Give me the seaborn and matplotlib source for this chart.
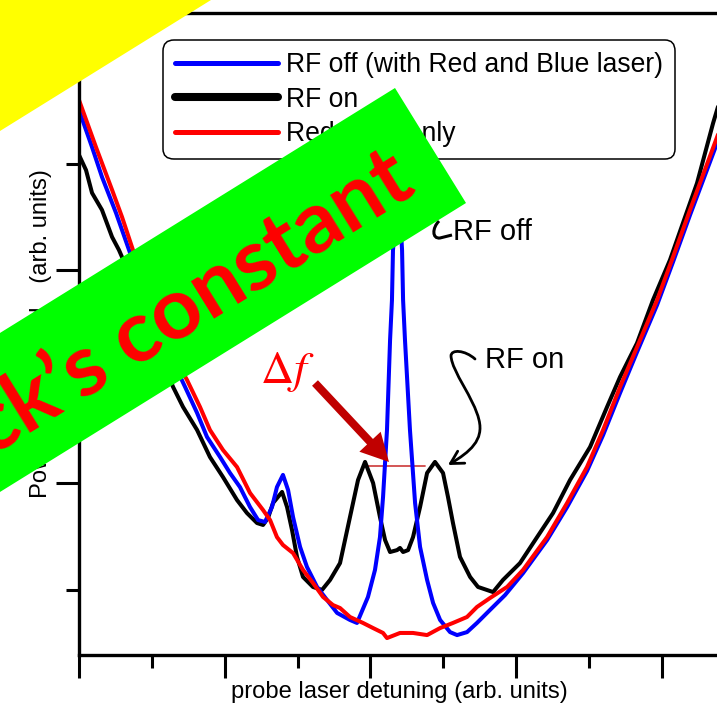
import matplotlib
matplotlib.use("Agg")
import numpy as np
import pandas as pd
import matplotlib.pyplot as plt
import matplotlib.transforms as mtransforms
from matplotlib.patches import Polygon, FancyArrowPatch, PathPatch
from matplotlib.lines import Line2D
from matplotlib.path import Path
from matplotlib.ticker import MultipleLocator
import seaborn as sns

# ---------------- data (arbitrary units) ----------------
red_x = [0, 11.6, 22.6, 29.4, 36.2, 48.5, 62.2, 73.8, 82.7, 89.5, 98.4, 108.0, 116.9, 125.8, 130.6,
         135.3, 139.4, 146.3, 153.1, 159.9, 166.8, 173.6, 178.4, 185.2, 194.1, 201.0, 207.8, 210.5,
         219.4, 228.3, 237.9, 246.8, 255.6, 265.2, 272.0, 280.9, 292.6, 303.5, 319.9, 333.6, 347.2,
         358.2, 369.8, 381.4, 395.1, 406.0, 417.6, 436.1, 441.6]
red_y = [279.8, 257.7, 237.6, 224.9, 210.8, 185.9, 162.4, 148.4, 135.7, 124.9, 115.5, 107.5, 95.3, 87.3,
         82.6, 74.6, 70.9, 67.1, 59.2, 53.1, 46.5, 42.7, 41.3, 37.1, 34.3, 31.9, 29.6, 27.2, 29.6, 29.6,
         28.6, 31.9, 34.3, 37.1, 41.8, 46.0, 51.2, 59.2, 74.6, 90.6, 107.5, 124.9, 145.1, 163.8, 185.9,
         206.1, 228.2, 262.4, 272.8]

blue_x = [0, 8.9, 15.7, 25.3, 34.2, 48.5, 62.2, 72.5, 80.7, 87.5, 96.4, 103.2, 110.0, 116.9, 122.4,
          127.1, 131.9, 135.3, 139.4, 142.9, 146.3, 151.1, 155.8, 162.7, 169.5, 176.4, 185.2, 190.0,
          197.5, 202.3, 205.7, 207.8, 210.5, 212.6, 213.9, 214.6, 216.7, 218.0, 219.4, 220.8, 221.5,
          222.8, 226.2, 229.7, 233.1, 237.9, 242.0, 246.8, 253.6, 258.4, 265.2, 272.0, 280.9, 291.2,
          303.5, 319.9, 333.6, 347.2, 358.2, 369.8, 381.4, 395.1, 406.0, 417.6, 436.1, 441.6]
blue_y = [275.1, 257.7, 243.7, 226.8, 209.4, 181.2, 160.1, 145.1, 132.9, 121.6, 112.2, 104.7, 98.1,
          88.7, 82.6, 81.7, 88.7, 98.1, 103.8, 96.7, 84.0, 70.0, 60.6, 51.2, 45.1, 39.0, 35.7, 34.3,
          46.5, 59.2, 74.6, 93.4, 124.9, 167.1, 185.9, 209.4, 225.8, 230.5, 225.8, 209.4, 185.9, 167.1,
          124.9, 90.6, 70.0, 54.5, 43.7, 35.7, 30.0, 28.6, 30.0, 34.3, 40.4, 47.4, 57.7, 73.2, 88.7,
          105.6, 122.5, 142.3, 161.5, 183.6, 203.8, 225.8, 259.6, 270.4]

black_x = [0, 4.8, 8.9, 15.7, 22.6, 27.3, 29.4, 45.1, 55.4, 64.3, 71.1, 80.7, 89.5, 98.4, 108.0, 114.8,
           121.7, 125.8, 129.2, 132.6, 138.8, 142.2, 145.6, 149.0, 153.1, 159.9, 166.1, 171.6, 178.4,
           185.2, 190.7, 195.5, 201.0, 205.7, 209.2, 212.6, 217.4, 219.4, 221.5, 224.9, 228.3, 233.1,
           237.9, 243.3, 248.8, 252.2, 255.6, 260.4, 267.3, 272.7, 283.0, 289.8, 301.4, 313.1, 324.0,
           335.6, 349.3, 360.9, 369.8, 381.4, 392.3, 403.9, 412.8, 422.4, 433.4, 438.1]
black_y = [254.0, 246.9, 236.2, 228.2, 215.5, 209.4, 206.1, 178.9, 160.1, 145.1, 135.7, 124.9, 112.2,
           102.8, 92.0, 85.9, 81.2, 80.3, 83.6, 90.6, 95.8, 88.7, 77.9, 65.3, 55.9, 51.2, 49.8, 54.5,
           62.4, 84.0, 101.4, 109.9, 100.0, 84.0, 73.2, 67.6, 68.5, 69.5, 67.6, 68.5, 74.6, 88.7, 104.7,
           109.9, 104.7, 93.4, 81.2, 65.3, 55.9, 51.2, 48.8, 54.5, 62.4, 74.6, 85.9, 101.4, 116.9,
           135.7, 149.8, 165.7, 185.9, 204.7, 222.1, 240.8, 269.0, 279.8]

series_labels = ["RF off (with Red and Blue laser)", "RF on", "Red laser only"]
x_label = "probe laser detuning (arb. units)"
y_label = "Power transmitted\u2003(arb. units)"
banner_text = "Planck\u2019s constant"

# ---------------- figure ----------------
sns.set_theme(style="white")
plt.rcParams["font.family"] = ["Liberation Sans", "DejaVu Sans"]
plt.rcParams["mathtext.fontset"] = "stix"

W, H = 717, 707
fig = plt.figure(figsize=(W / 100, H / 100), dpi=100)
fig.patch.set_facecolor("white")
pix = mtransforms.Affine2D().scale(1, -1).translate(0, H)  # image pixel coords (y down)

ax = fig.add_axes([79 / W, 1 - 655 / H, (720 - 79) / W, (655 - 13) / H])
ax.set_facecolor("white")

df = pd.concat([
    pd.DataFrame({"x": black_x, "y": black_y, "s": series_labels[1]}),
    pd.DataFrame({"x": blue_x, "y": blue_y, "s": series_labels[0]}),
    pd.DataFrame({"x": red_x, "y": red_y, "s": series_labels[2]}),
])
colors = {series_labels[0]: "#0000ff", series_labels[1]: "#000000", series_labels[2]: "#ff0000"}
for i, name in enumerate([series_labels[1], series_labels[0], series_labels[2]]):
    sub = df[df["s"] == name]
    sns.lineplot(data=sub, x="x", y="y", color=colors[name], lw=2.9, label=name,
                 sort=False, estimator=None, ax=ax, zorder=2 + i * 0.1)
for ln in ax.get_lines():
    ln.set_solid_joinstyle("round")

ax.set_xlim(0, 438.1)
ax.set_ylim(19.25, 320.66)
ax.xaxis.set_major_locator(MultipleLocator(99.6))
ax.xaxis.set_minor_locator(MultipleLocator(49.8))
ax.yaxis.set_major_locator(MultipleLocator(100))
ax.yaxis.set_minor_locator(MultipleLocator(50))
ax.tick_params(which="major", direction="out", length=16.5, width=2.2, color="black",
               bottom=True, left=True, top=False, right=False, labelbottom=False, labelleft=False)
ax.tick_params(which="minor", direction="out", length=9.4, width=2.2, color="black",
               bottom=True, left=True, top=False, right=False)
for sp in ["left", "bottom", "top", "right"]:
    ax.spines[sp].set_color("black")
    ax.spines[sp].set_linewidth(2.4)

ax.set_xlabel(x_label, fontsize=17.1, color="black", va="baseline")
ax.xaxis.set_label_coords(0.5, (655 - 698) / 642)
ax.set_ylabel(y_label, fontsize=17.1, color="black", va="baseline")
ax.yaxis.set_label_coords((47 - 79) / 641, (655 - 333.5) / 642)

# legend
handles, labels = ax.get_legend_handles_labels()
order = [labels.index(l) for l in series_labels]
leg = ax.legend([handles[i] for i in order], [labels[i] for i in order],
                loc="upper left", bbox_to_anchor=(163, 40), bbox_transform=pix,
                borderaxespad=0, fontsize=19.1, handlelength=3.9, handletextpad=0.3,
                borderpad=0.45, labelspacing=0.33, frameon=True, fancybox=True,
                framealpha=1, edgecolor="black", facecolor="white")
leg.get_frame().set_linewidth(1.1)
leg.get_frame().set_boxstyle("round,pad=0,rounding_size=0.4")
for t in leg.get_texts():
    t.set_color("black")
lw_leg = [3.6, 5.8, 3.6]
for ln, lw in zip(leg.get_lines(), lw_leg):
    ln.set_linewidth(lw)

# annotations
ax.add_line(Line2D([367, 425], [466, 466], transform=pix, color="#d04848", lw=1.3, zorder=1.5))
ax.text(453, 240, "RF off", transform=pix, fontsize=21, color="black", va="baseline", ha="left")
ax.text(485, 368, "RF on", transform=pix, fontsize=21, color="black", va="baseline", ha="left")

br = Path([(439, 221), (432, 228), (432, 239), (440, 238), (452, 235)],
          [Path.MOVETO, Path.CURVE4, Path.CURVE4, Path.CURVE4, Path.LINETO])
ax.add_patch(PathPatch(br, transform=pix, fill=False, edgecolor="black", lw=2.2, zorder=3,
                       clip_on=False))

arr_path = Path([(475, 359), (465, 350), (451, 349), (451, 356),
                 (452, 372), (474, 398), (479, 420),
                 (484, 440), (470, 452), (448, 465)],
                [Path.MOVETO, Path.CURVE4, Path.CURVE4, Path.CURVE4,
                 Path.CURVE4, Path.CURVE4, Path.CURVE4,
                 Path.CURVE4, Path.CURVE4, Path.CURVE4])
fig.add_artist(FancyArrowPatch(path=arr_path, transform=pix,
                               arrowstyle="->,head_length=9,head_width=5",
                               mutation_scale=1, lw=2.0, color="black", zorder=5))

fig.add_artist(FancyArrowPatch(posA=(315, 383), posB=(389, 462), transform=pix,
                               arrowstyle="simple,head_length=20,head_width=21,tail_width=5.8",
                               mutation_scale=1, color="#c00000", lw=0, shrinkA=0, shrinkB=0,
                               zorder=6))
fig.text(260, 383, r"$\Delta f$", transform=pix, fontsize=33, color="#ff0000",
         va="baseline", ha="left", zorder=6)

# overlays
fig.add_artist(Polygon([(0, 0), (211, 0), (0, 131)], closed=True, transform=pix,
                       facecolor="#ffff00", edgecolor="none", zorder=20))
fig.add_artist(Polygon([(-300, 519), (395, 88), (466, 203), (-300, 678)], closed=True,
                       transform=pix, facecolor="#00ff00", edgecolor="none", zorder=20))

renderer = fig.canvas.get_renderer()
tmp = fig.text(0, 0, "constant", fontsize=100, family="Lato", weight="bold")
wtmp = tmp.get_window_extent(renderer).width
tmp.remove()
fs = 100 * 337 / wtmp
fig.text(419, 193, banner_text, transform=pix, rotation=31.8, rotation_mode="anchor",
         ha="right", va="baseline", fontsize=fs, family="Lato", weight="bold",
         color="#ff0000", zorder=21)

fig.savefig("out.png", dpi=100)
